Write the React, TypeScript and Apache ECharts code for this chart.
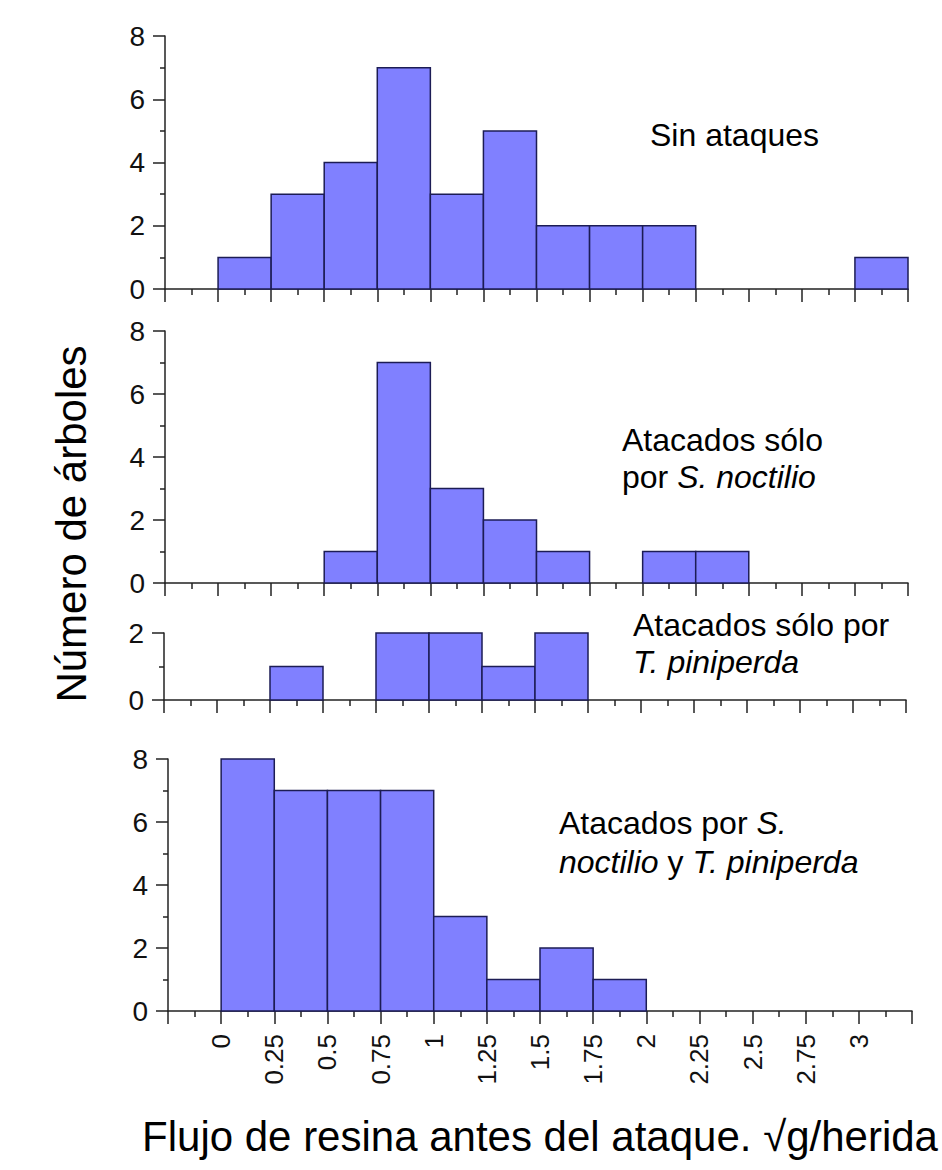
import React, { useEffect, useRef } from "react";
import * as echarts from "echarts";

// Bin starts (width 0.25) for the resin-flow histogram
const binStarts = [0, 0.25, 0.5, 0.75, 1, 1.25, 1.5, 1.75, 2, 2.25, 2.5, 2.75, 3];
const binWidth = 0.25;

// Counts per bin, one array per panel
const sinAtaques = [1, 3, 4, 7, 3, 5, 2, 2, 2, 0, 0, 0, 1];
const soloSirex = [0, 0, 1, 7, 3, 2, 1, 0, 1, 1, 0, 0, 0];
const soloTomicus = [0, 1, 0, 2, 2, 1, 2, 0, 0, 0, 0, 0, 0];
const ambos = [8, 7, 7, 7, 3, 1, 2, 1, 0, 0, 0, 0, 0];

const xMin = -0.25;
const xMax = 3.25;
const xLabelMax = 3;
const yMaxBig = 8;
const yMaxSmall = 2;

const FONT = "'Liberation Sans', Arial, sans-serif";
const AXIS_COLOR = "#222";
const BAR_FILL = "#8080ff";
const BAR_STROKE = "#1c1c55";

const grids = [
  { left: 165, top: 36, width: 743, height: 253 },
  { left: 165, top: 331, width: 743, height: 252 },
  { left: 164, top: 633, width: 742, height: 67 },
  { left: 168, top: 759, width: 744, height: 252 },
];

function binData(counts: number[]) {
  const out: number[][] = [];
  counts.forEach((c, i) => {
    if (c > 0) out.push([binStarts[i], binStarts[i] + binWidth, c]);
  });
  return out;
}

export default function App() {
  const ref = useRef<HTMLDivElement>(null);

  useEffect(() => {
    if (!ref.current) return;
    const chart = echarts.init(ref.current, null, { renderer: "svg" });
    const panels = [sinAtaques, soloSirex, soloTomicus, ambos];

    const xAxis = grids.map((_, i) => ({
      type: "value",
      gridIndex: i,
      min: xMin,
      max: xMax,
      interval: 0.25,
      axisLine: { show: true, onZero: false, lineStyle: { color: AXIS_COLOR, width: 1.5 } },
      axisTick: { show: true, length: 13, lineStyle: { color: AXIS_COLOR, width: 1.5 } },
      minorTick: { show: true, splitNumber: 2, length: 6, lineStyle: { color: AXIS_COLOR, width: 1.5 } },
      splitLine: { show: false },
      minorSplitLine: { show: false },
      axisLabel: {
        show: i === 3,
        rotate: 90,
        fontSize: 26,
        margin: 23,
        color: "#111",
        fontFamily: FONT,
        formatter: (v: number) => {
          const r = Math.round(v * 100) / 100;
          if (r < 0 || r > xLabelMax) return "";
          return String(r);
        },
      },
    }));

    const yAxis = grids.map((_, i) => ({
      type: "value",
      gridIndex: i,
      min: 0,
      max: i === 2 ? yMaxSmall : yMaxBig,
      interval: 2,
      axisLine: { show: true, onZero: false, lineStyle: { color: AXIS_COLOR, width: 1.5 } },
      axisTick: { show: true, length: 12, lineStyle: { color: AXIS_COLOR, width: 1.5 } },
      minorTick: { show: true, splitNumber: 2, length: 5, lineStyle: { color: AXIS_COLOR, width: 1.5 } },
      splitLine: { show: false },
      minorSplitLine: { show: false },
      axisLabel: { fontSize: 28, margin: 20, color: "#111", fontFamily: FONT },
    }));

    const series = panels.map((counts, i) => ({
      type: "custom",
      xAxisIndex: i,
      yAxisIndex: i,
      data: binData(counts),
      encode: { x: [0, 1], y: 2 },
      renderItem: (params: any, api: any) => {
        const p0 = api.coord([api.value(0), api.value(2)]);
        const p1 = api.coord([api.value(1), 0]);
        return {
          type: "rect",
          shape: { x: p0[0], y: p0[1], width: p1[0] - p0[0], height: p1[1] - p0[1] },
          style: { fill: BAR_FILL, stroke: BAR_STROKE, lineWidth: 1.5 },
        };
      },
    }));

    const normal = { fontSize: 32, fontFamily: FONT, fill: "#000" };
    const italic = { fontSize: 32, fontFamily: FONT, fontStyle: "italic", fill: "#000" };

    const graphic = [
      {
        type: "text",
        x: 650,
        y: 119,
        style: { text: "Sin ataques", font: `32px ${FONT}`, fill: "#000" },
      },
      {
        type: "text",
        x: 622,
        y: 421,
        style: {
          text: "{n|Atacados sólo}\n{n|por }{i|S. noctilio}",
          rich: { n: { ...normal, lineHeight: 37 }, i: { ...italic, lineHeight: 37 } },
        },
      },
      {
        type: "text",
        x: 633,
        y: 606,
        style: {
          text: "{n|Atacados sólo por}\n{i|T. piniperda}",
          rich: { n: { ...normal, lineHeight: 37 }, i: { ...italic, lineHeight: 37 } },
        },
      },
      {
        type: "text",
        x: 559,
        y: 803,
        style: {
          text: "{n|Atacados por }{i|S.}\n{i|noctilio}{n| y }{i|T. piniperda}",
          rich: { n: { ...normal, lineHeight: 39 }, i: { ...italic, lineHeight: 39 } },
        },
      },
      {
        type: "text",
        x: 71,
        y: 524,
        rotation: Math.PI / 2,
        style: {
          text: "Número de árboles",
          font: `42px ${FONT}`,
          fill: "#000",
          align: "center",
          verticalAlign: "middle",
        },
      },
      {
        type: "text",
        x: 540,
        y: 1136,
        style: {
          text: "Flujo de resina antes del ataque. √g/herida",
          font: `42px ${FONT}`,
          fill: "#000",
          align: "center",
          verticalAlign: "middle",
        },
      },
    ];

    chart.setOption({
      animation: false,
      backgroundColor: "#ffffff",
      grid: grids.map((g) => ({ ...g, containLabel: false })),
      xAxis,
      yAxis,
      series,
      graphic,
    });

    return () => chart.dispose();
  }, []);

  return (
    <div
      ref={ref}
      style={{ position: "absolute", left: 0, top: 0, width: 942, height: 1170 }}
    />
  );
}
